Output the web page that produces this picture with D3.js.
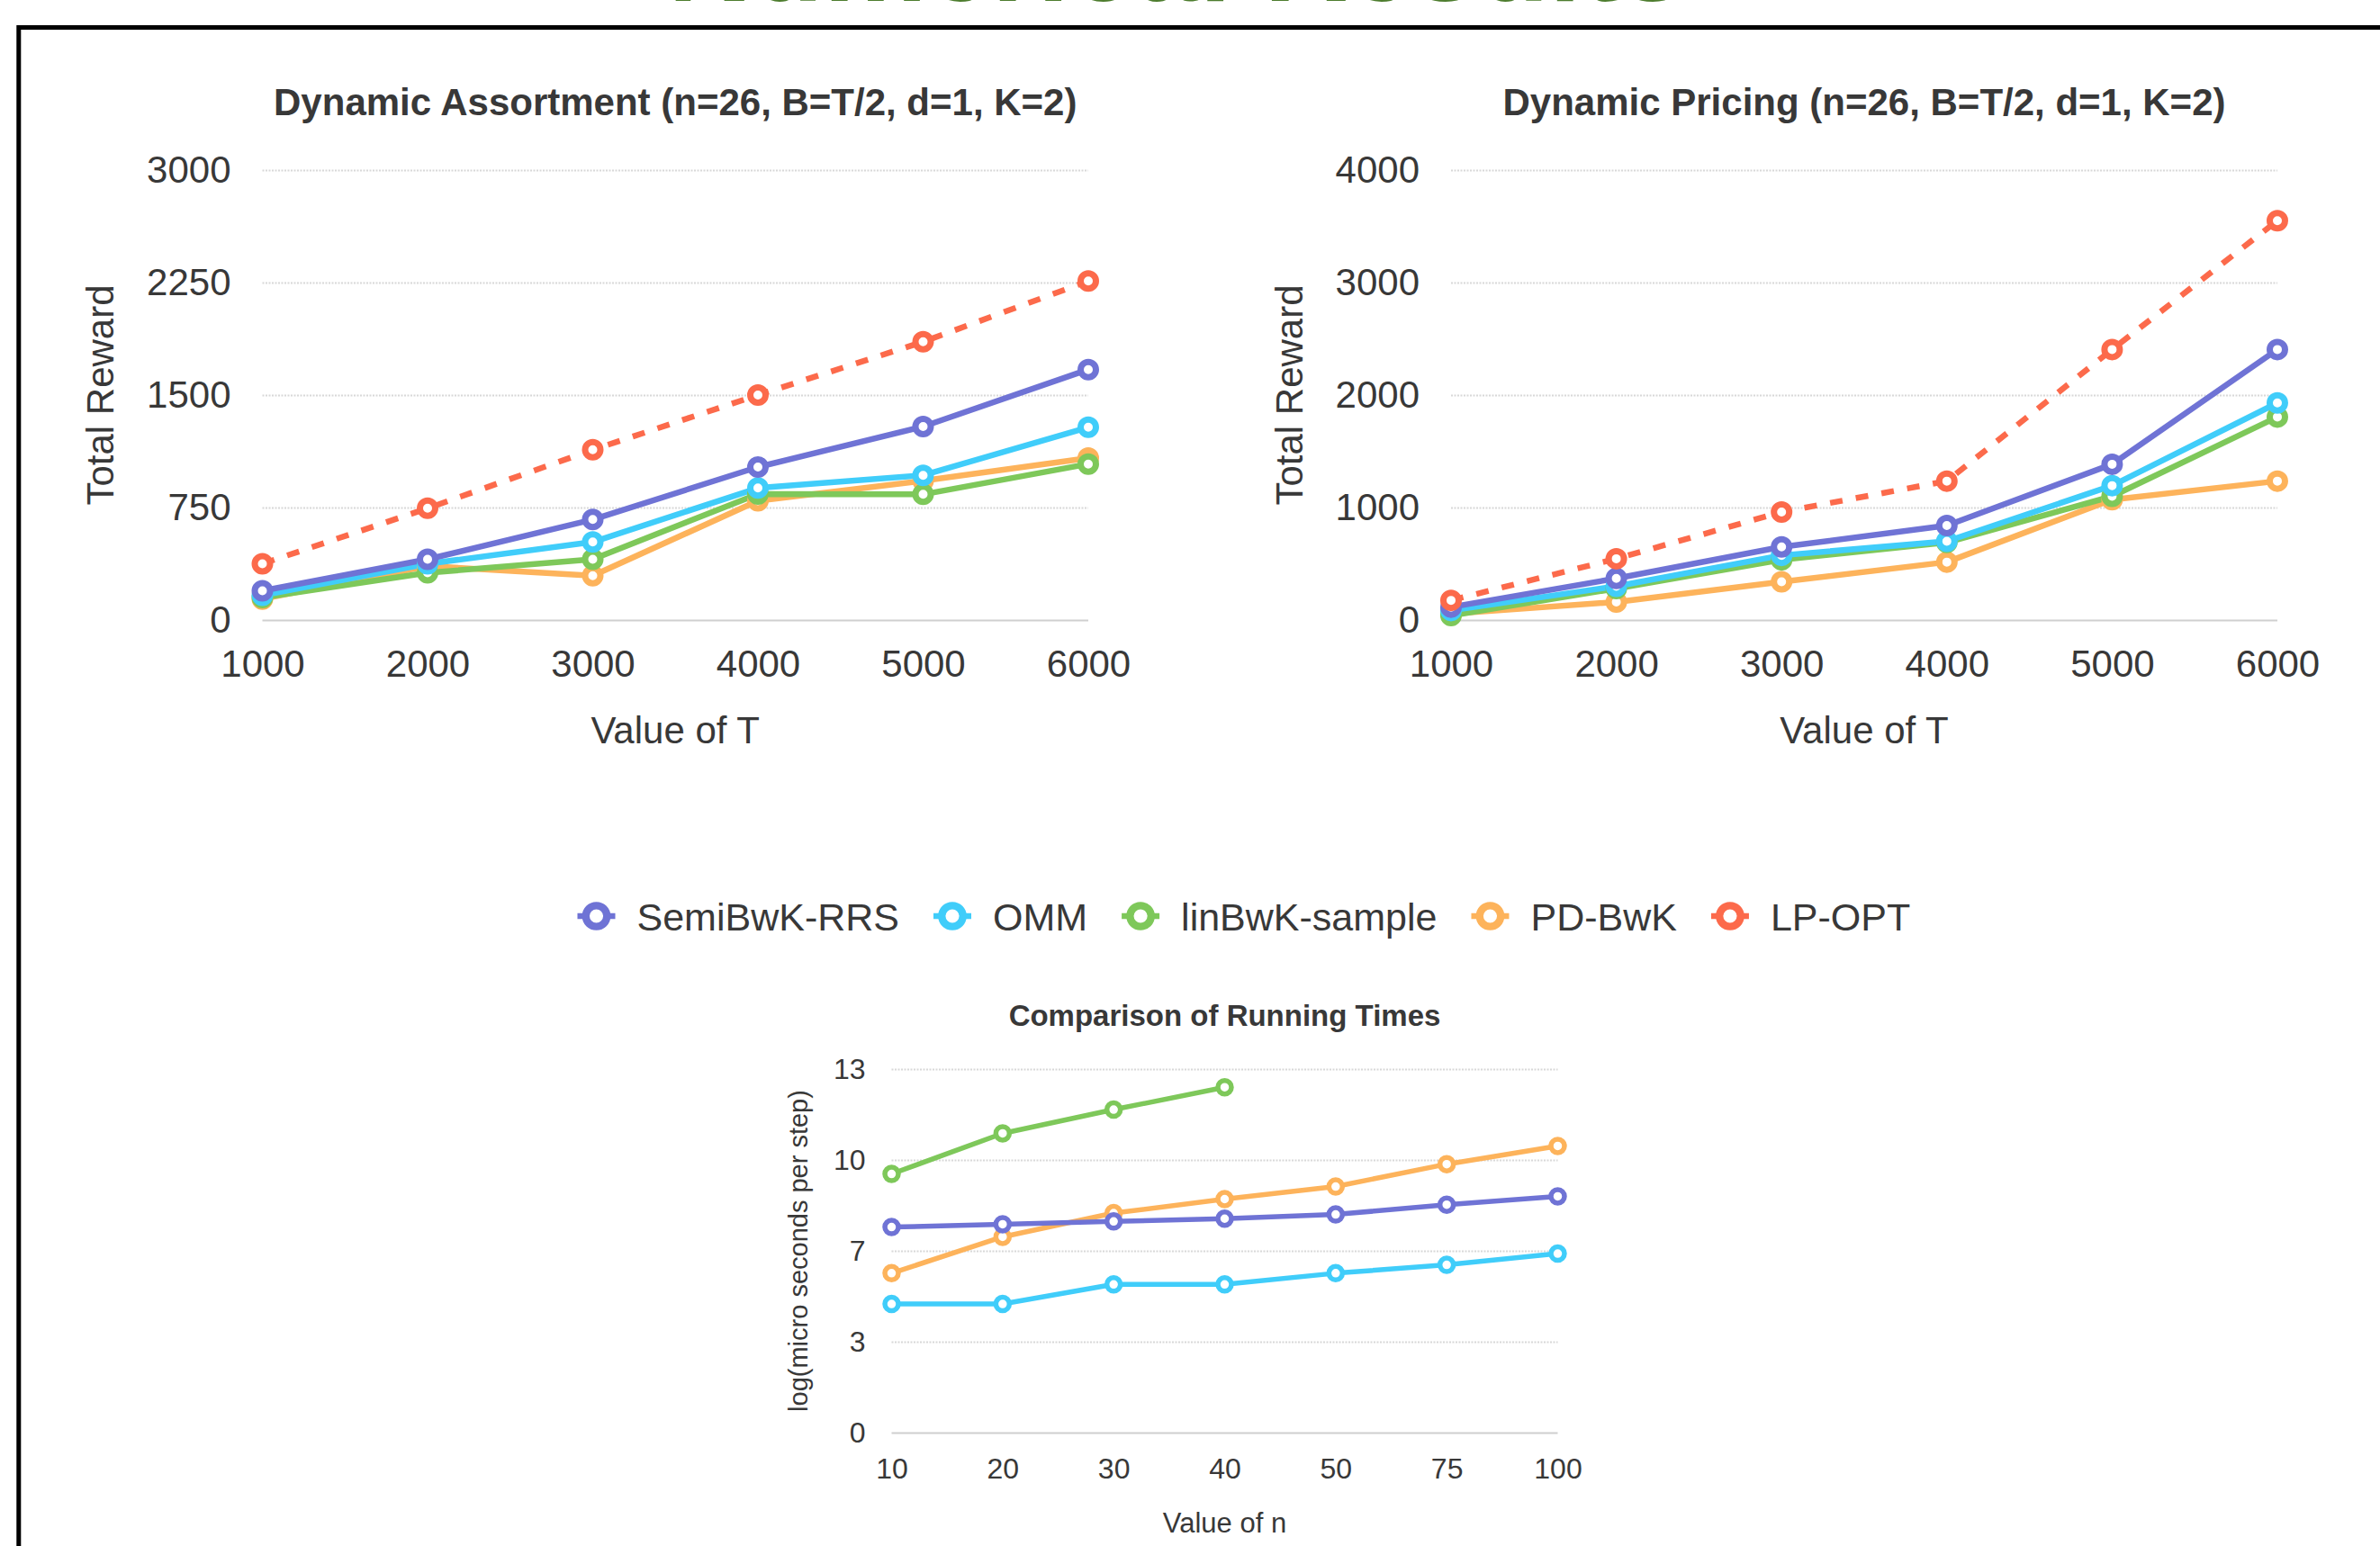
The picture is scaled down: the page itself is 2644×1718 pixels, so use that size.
<!DOCTYPE html>
<html><head><meta charset="utf-8">
<script src="https://cdn.jsdelivr.net/npm/d3@7"></script>
<style>
html,body{margin:0;padding:0;background:#fff;overflow:hidden;}
svg{display:block;}
text{font-family:"Liberation Sans", Arial, Helvetica, sans-serif;}
</style></head><body>
<svg id="chart" width="2644" height="1718"></svg>
<script>
// ---------- data ----------
const seriesNames  = ["SemiBwK-RRS", "OMM", "linBwK-sample", "PD-BwK", "LP-OPT"];
const seriesColors = ["#6f73d5", "#40cdfa", "#7ec85a", "#fdb35b", "#fc6a4b"];

const tValues = [1000, 2000, 3000, 4000, 5000, 6000];

// Dynamic Assortment
const assortSemi   = [195, 405, 670, 1020, 1290, 1670];
const assortOMM    = [165, 375, 520, 880, 965, 1285];
const assortLin    = [150, 315, 405, 840, 838, 1040];
const assortPD     = [140, 360, 295, 795, 928, 1080];
const assortLP     = [375, 745, 1135, 1500, 1855, 2260];
const assortTicks  = [0, 750, 1500, 2250, 3000];

// Dynamic Pricing
const pricingSemi  = [115, 370, 650, 840, 1385, 2405];
const pricingOMM   = [85, 300, 575, 700, 1195, 1930];
const pricingLin   = [40, 280, 535, 690, 1100, 1805];
const pricingPD    = [55, 160, 340, 515, 1070, 1235];
const pricingLP    = [175, 545, 960, 1235, 2405, 3550];
const pricingTicks = [0, 1000, 2000, 3000, 4000];

// Running times
const nValues   = ["10", "20", "30", "40", "50", "75", "100"];
const timeSemi  = [7.35, 7.45, 7.55, 7.65, 7.8, 8.15, 8.45];
const timeOMM   = [4.6, 4.6, 5.3, 5.3, 5.7, 6.0, 6.4];
const timeLin   = [9.25, 10.7, 11.55, 12.35];
const timePD    = [5.7, 7.0, 7.85, 8.35, 8.8, 9.6, 10.25];
const timeTicks = [0, 3.25, 6.5, 9.75, 13];

// ---------- drawing ----------
const svg = d3.select("#chart");
const TXT = "#383838";
const FONT = "'Liberation Sans', Arial, sans-serif";

// page heading (cut off at the top) and frame
svg.append("text").attr("x", 1307).attr("y", 1).attr("text-anchor", "middle")
  .attr("font-size", 130).attr("font-weight", "bold").attr("fill", "#4e7d2f")
  .attr("textLength", 1130).attr("lengthAdjust", "spacingAndGlyphs")
  .text("Numerical Results");
svg.append("rect").attr("x", 20.8).attr("y", 30.5).attr("width", 2800).attr("height", 2000)
  .attr("fill", "none").attr("stroke", "#000").attr("stroke-width", 5);

function drawChart(cfg) {
  const g = svg.append("g");
  const x = cfg.xScale;
  const y = d3.scaleLinear().domain(cfg.yDomain).range([cfg.y1, cfg.y0]);

  // grid + y labels
  const grid = g.append("g").attr("transform", `translate(${cfg.x0},0)`)
    .call(d3.axisLeft(y).tickValues(cfg.yTicks).tickSize(-(cfg.x1 - cfg.x0))
      .tickFormat(cfg.yFormat).tickPadding(cfg.tickPad));
  grid.select(".domain").remove();
  grid.selectAll(".tick line").attr("stroke-width", 2)
    .attr("stroke-dasharray", d => d === 0 ? null : "2,1.5")
    .attr("stroke", d => d === 0 ? "#cfcfcf" : "#d8d8d8");
  grid.selectAll(".tick text").attr("font-size", cfg.fs).attr("fill", TXT).attr("font-family", FONT);

  // x axis labels
  let xAxis = d3.axisBottom(x).tickSize(0).tickPadding(cfg.xTickPad);
  if (cfg.xTicks) xAxis = xAxis.tickValues(cfg.xTicks).tickFormat(d3.format("d"));
  const xa = g.append("g").attr("transform", `translate(0,${cfg.y1})`).call(xAxis);
  xa.select(".domain").remove();
  xa.selectAll(".tick text").attr("font-size", cfg.fs).attr("fill", TXT).attr("font-family", FONT);

  // titles
  g.append("text").attr("x", (cfg.x0 + cfg.x1) / 2).attr("y", cfg.titleY)
    .attr("text-anchor", "middle").attr("font-size", cfg.titleFs).attr("font-weight", "bold")
    .attr("fill", TXT).text(cfg.title);
  g.append("text").attr("x", (cfg.x0 + cfg.x1) / 2).attr("y", cfg.xTitleY)
    .attr("text-anchor", "middle").attr("font-size", cfg.axisFs).attr("fill", TXT).text(cfg.xTitle);
  g.append("text").attr("transform", `translate(${cfg.yTitleX},${(cfg.y0 + cfg.y1) / 2}) rotate(-90)`)
    .attr("text-anchor", "middle").attr("font-size", cfg.yTitleFs).attr("fill", TXT).text(cfg.yTitle);

  // series
  const line = d3.line().x(d => x(d[0])).y(d => y(d[1]));
  cfg.series.forEach(s => {
    const pts = s.values.map((v, i) => [cfg.xValues[i], v]);
    g.append("path").datum(pts).attr("d", line).attr("fill", "none")
      .attr("stroke", seriesColors[s.idx]).attr("stroke-width", cfg.lw)
      .attr("stroke-linejoin", "round")
      .attr("stroke-dasharray", s.dashed ? "14,15" : null);
  });
  cfg.series.forEach(s => {
    const pts = s.values.map((v, i) => [cfg.xValues[i], v]);
    g.selectAll(null).data(pts).enter().append("circle")
      .attr("cx", d => x(d[0])).attr("cy", d => y(d[1])).attr("r", cfg.r)
      .attr("fill", "#fff").attr("stroke", seriesColors[s.idx]).attr("stroke-width", cfg.msw);
  });
}

const fmtInt = d3.format("d");

drawChart({
  x0: 291.5, x1: 1209, y0: 189, y1: 689,
  xScale: d3.scaleLinear().domain([1000, 6000]).range([291.5, 1209]), xTicks: tValues,
  xValues: tValues, yDomain: [0, 3000], yTicks: assortTicks, yFormat: fmtInt,
  fs: 42, tickPad: 35, xTickPad: 33, titleFs: 42, axisFs: 42, yTitleFs: 42,
  title: "Dynamic Assortment (n=26, B=T/2, d=1, K=2)", titleY: 128,
  xTitle: "Value of T", xTitleY: 826, yTitle: "Total Reward", yTitleX: 126,
  lw: 6.5, r: 8.5, msw: 7,
  series: [
    {idx: 3, values: assortPD}, {idx: 2, values: assortLin}, {idx: 1, values: assortOMM},
    {idx: 0, values: assortSemi}, {idx: 4, values: assortLP, dashed: true}
  ]
});

drawChart({
  x0: 1612, x1: 2530, y0: 189, y1: 689,
  xScale: d3.scaleLinear().domain([1000, 6000]).range([1612, 2530]), xTicks: tValues,
  xValues: tValues, yDomain: [0, 4000], yTicks: pricingTicks, yFormat: fmtInt,
  fs: 42, tickPad: 35, xTickPad: 33, titleFs: 42, axisFs: 42, yTitleFs: 42,
  title: "Dynamic Pricing (n=26, B=T/2, d=1, K=2)", titleY: 128,
  xTitle: "Value of T", xTitleY: 826, yTitle: "Total Reward", yTitleX: 1447,
  lw: 6.5, r: 8.5, msw: 7,
  series: [
    {idx: 3, values: pricingPD}, {idx: 2, values: pricingLin}, {idx: 1, values: pricingOMM},
    {idx: 0, values: pricingSemi}, {idx: 4, values: pricingLP, dashed: true}
  ]
});

drawChart({
  x0: 990.5, x1: 1730.5, y0: 1188, y1: 1592,
  xScale: d3.scalePoint().domain(nValues).range([990.5, 1730.5]).padding(0),
  xValues: nValues, yDomain: [0, 13], yTicks: timeTicks, yFormat: d => String(Math.round(d)),
  fs: 32, tickPad: 29, xTickPad: 28, titleFs: 33, axisFs: 31, yTitleFs: 29,
  title: "Comparison of Running Times", titleY: 1140,
  xTitle: "Value of n", xTitleY: 1703, yTitle: "log(micro seconds per step)", yTitleX: 897,
  lw: 5.5, r: 7.5, msw: 5.5,
  series: [
    {idx: 1, values: timeOMM}, {idx: 3, values: timePD}, {idx: 0, values: timeSemi},
    {idx: 2, values: timeLin}
  ]
});

// legend
const legend = svg.append("g").attr("transform", "translate(0,1018)");
let cx = 662.5;
seriesNames.forEach((name, i) => {
  legend.append("line").attr("x1", cx - 21).attr("x2", cx + 21).attr("y1", 0).attr("y2", 0)
    .attr("stroke", seriesColors[i]).attr("stroke-width", 6.5);
  legend.append("circle").attr("cx", cx).attr("cy", 0).attr("r", 11.7)
    .attr("fill", "#fff").attr("stroke", seriesColors[i]).attr("stroke-width", 8.3);
  const t = legend.append("text").attr("x", cx + 45).attr("y", 15.5)
    .attr("font-size", 43).attr("fill", TXT).text(name);
  const w = t.node().getComputedTextLength();
  cx = cx + 45 + w + 59;
});
</script>
</body></html>
